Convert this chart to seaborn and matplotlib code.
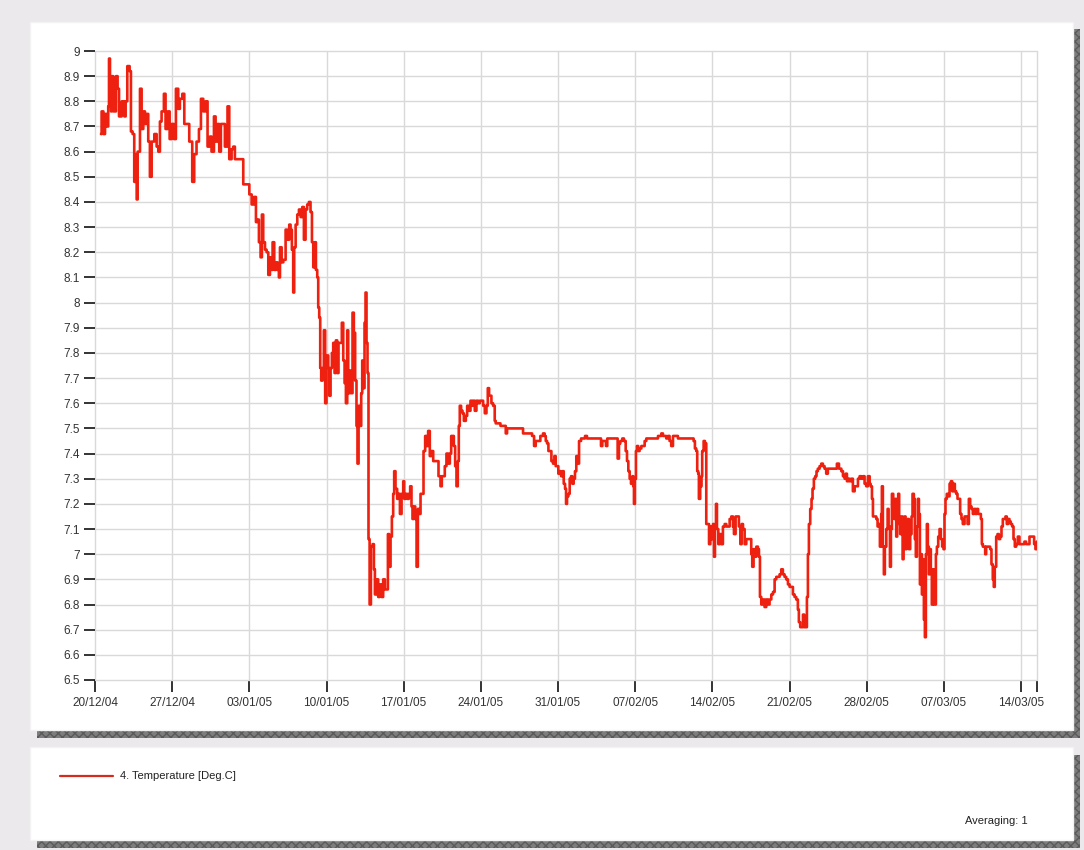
import numpy as np
import pandas as pd
import matplotlib
matplotlib.use("Agg")
import matplotlib.pyplot as plt
from matplotlib.patches import Rectangle
from matplotlib.lines import Line2D
import seaborn as sns

# ---------------- data ----------------
start_date = "2004-12-20"

day_offsets = [
    0.54, 0.60, 0.76, 0.91, 1.06, 1.20, 1.27, 1.36, 1.45, 1.51, 1.66, 1.90, 2.05, 2.18, 2.42, 2.66, 2.78, 2.93,
    3.14, 3.26, 3.41, 3.56, 3.69, 3.78, 3.87, 4.08, 4.23, 4.38, 4.53, 4.68, 4.83, 4.98, 5.14, 5.38, 5.59, 5.74,
    5.89, 6.04, 6.25, 6.40, 6.59, 6.77, 6.95, 7.16, 7.34, 7.55, 7.70, 7.92, 8.10, 8.31, 8.55, 8.82, 9.00, 9.21,
    9.43, 9.61, 9.82, 10.03, 10.21, 10.42, 10.57, 10.79, 10.94, 11.12, 11.27, 11.42, 11.57, 11.78, 12.02, 12.18,
    12.39, 12.54, 12.69, 12.93,
    13.45, 13.75, 14.00, 14.21, 14.42, 14.60, 14.72, 14.87, 15.02, 15.14, 15.26, 15.42, 15.57, 15.72, 15.87,
    16.02, 16.11, 16.26, 16.41, 16.56, 16.68, 16.78, 16.93, 17.08, 17.29, 17.44, 17.62, 17.74, 17.86, 17.98,
    18.07, 18.20, 18.35, 18.50, 18.65, 18.80, 18.95, 19.10, 19.25, 19.40, 19.55, 19.68, 19.80, 19.95, 20.04,
    20.16, 20.25, 20.34, 20.43, 20.52, 20.64, 20.76, 20.88, 21.00, 21.16, 21.25, 21.37, 21.49, 21.61, 21.73,
    21.85, 21.97, 22.09, 22.27, 22.39, 22.52, 22.64, 22.76, 22.88, 22.97, 23.12, 23.24, 23.36, 23.48, 23.60,
    23.72, 23.81, 23.91, 24.03, 24.15, 24.24, 24.36, 24.45, 24.54, 24.63, 24.72, 24.81,
    24.91, 25.03, 25.18, 25.30, 25.39, 25.54, 25.69, 25.84, 25.99, 26.14, 26.30, 26.45, 26.57, 26.69, 26.81,
    26.93, 27.05, 27.14, 27.26, 27.41, 27.53, 27.66, 27.81, 27.96, 28.05, 28.20, 28.32, 28.47, 28.59, 28.71,
    28.80, 28.92, 29.05, 29.17, 29.29, 29.41, 29.53, 29.68, 29.80, 29.95, 30.07, 30.22, 30.37, 30.50, 30.68,
    30.86, 31.04, 31.16, 31.34, 31.46, 31.58, 31.73, 31.88, 32.04, 32.19, 32.31, 32.43, 32.55, 32.67, 32.79,
    32.91, 33.00, 33.09, 33.21, 33.34, 33.46, 33.64, 33.76, 33.91, 34.06, 34.18, 34.30, 34.45, 34.60, 34.76,
    34.91, 35.09, 35.21, 35.36, 35.51, 35.63, 35.75,
    35.96, 36.11, 36.26, 36.35, 36.63, 36.78, 37.08, 37.26, 37.38, 38.74, 38.83, 39.44, 39.65, 39.83, 39.98,
    40.19, 40.40, 40.64, 40.79, 40.89, 41.01, 41.13, 41.25, 41.40, 41.55, 41.67, 41.79, 41.91, 42.03, 42.15,
    42.28, 42.40, 42.52, 42.64, 42.73, 42.82, 42.94, 43.06, 43.18, 43.30, 43.42, 43.54, 43.66, 43.79, 43.91,
    44.09, 44.33, 44.45, 44.63, 45.78, 45.90, 46.02, 46.23, 46.35, 46.47, 47.29, 47.41, 47.53, 47.65, 47.83,
    47.98, 48.14, 48.26, 48.38, 48.50, 48.62, 48.74, 48.83, 48.89, 48.98, 49.07, 49.16, 49.28, 49.40, 49.56,
    49.71, 49.86, 50.01, 50.92, 51.07, 51.22, 51.37, 51.52, 51.67, 51.82, 51.97, 52.12, 52.27, 52.43, 52.58,
    52.73, 52.88, 54.09, 54.30, 54.42, 54.54, 54.63, 54.72, 54.78, 54.90, 55.02, 55.08, 55.21, 55.33,
    55.45, 55.61, 55.70, 55.82, 55.94, 56.06, 56.15, 56.24, 56.33, 56.42, 56.54, 56.66, 56.81, 56.96, 57.12,
    57.27, 57.42, 57.57, 57.72, 57.87, 57.96, 58.11, 58.26, 58.41, 58.54, 58.66, 58.78, 58.93, 59.08, 59.38,
    59.53, 59.62, 59.74, 59.87, 59.99, 60.14, 60.23, 60.32, 60.44, 60.59, 60.74, 60.89, 61.04, 61.19, 61.35,
    61.50, 61.65, 61.80, 61.95, 62.10, 62.25, 62.40, 62.55, 62.70, 62.86, 63.01, 63.16, 63.31, 63.46, 63.61,
    63.76, 63.85, 63.97, 64.09, 64.22, 64.34, 64.46, 64.58, 64.67, 64.76, 64.88, 65.00, 65.09, 65.21, 65.33,
    65.45, 65.57, 65.73, 65.88, 66.03, 66.18, 66.33, 66.48,
    66.64, 67.24, 67.30, 67.49, 67.70, 67.85, 68.00, 68.09, 68.21, 68.33, 68.45, 68.60, 68.75, 68.91, 69.06,
    69.21, 69.36, 69.51, 69.66, 69.81, 69.96, 70.11, 70.27, 70.36, 70.48, 70.57, 70.72, 70.87, 70.99, 71.11,
    71.20, 71.32, 71.38, 71.47, 71.56, 71.65, 71.78, 71.90, 71.99, 72.11, 72.20, 72.29, 72.41, 72.50, 72.59,
    72.68, 72.77, 72.86, 72.95, 73.04, 73.14, 73.26, 73.35, 73.44, 73.53, 73.62, 73.71, 73.83, 73.95, 74.07,
    74.16, 74.28, 74.37, 74.46, 74.56, 74.65, 74.74, 74.83, 74.92, 75.01, 75.10, 75.19, 75.28, 75.37, 75.46,
    75.55, 75.64, 75.73, 75.82, 75.91, 76.00, 76.10, 76.19, 76.28, 76.37, 76.49, 76.61, 76.73, 76.85, 76.97,
    77.06, 77.15, 77.27, 77.40, 77.52, 77.64, 77.76, 77.88, 78.00, 78.12, 78.24, 78.36, 78.48, 78.60, 78.72,
    78.88, 79.03, 79.15, 79.27, 79.39, 79.51, 79.63, 79.75, 79.87, 79.99, 80.11, 80.23, 80.36, 80.45, 80.54,
    80.66, 80.75, 80.84, 81.08, 81.20, 81.32, 81.44, 81.53, 81.62, 81.75, 81.87, 81.99, 82.11, 82.23, 82.35,
    82.47, 82.59, 82.71, 82.83, 82.95, 83.07, 83.20, 83.32, 83.44, 83.56, 83.71, 83.86, 84.16, 84.31, 84.46,
    84.61, 84.77, 84.92, 85.07, 85.19, 85.31, 85.43,
]

temperatures = [
    8.67, 8.76, 8.67, 8.75, 8.70, 8.78, 8.97, 8.88, 8.76, 8.90, 8.76, 8.90, 8.85, 8.74, 8.80, 8.74, 8.80, 8.94,
    8.92, 8.68, 8.67, 8.48, 8.59, 8.41, 8.60, 8.85, 8.69, 8.76, 8.71, 8.75, 8.64, 8.50, 8.64, 8.67, 8.62, 8.60,
    8.72, 8.76, 8.83, 8.69, 8.76, 8.65, 8.71, 8.65, 8.85, 8.77, 8.81, 8.83, 8.71, 8.71, 8.64, 8.48, 8.59, 8.64,
    8.69, 8.81, 8.76, 8.80, 8.62, 8.66, 8.60, 8.74, 8.64, 8.71, 8.60, 8.71, 8.71, 8.62, 8.78, 8.57,
    8.61, 8.62, 8.57, 8.57,
    8.47, 8.47, 8.43, 8.39, 8.42, 8.32, 8.33, 8.24, 8.18, 8.35, 8.24, 8.21, 8.20, 8.11, 8.18,
    8.13, 8.24, 8.13, 8.16, 8.13, 8.10, 8.22, 8.16, 8.17, 8.29, 8.25, 8.31, 8.29, 8.21, 8.04,
    8.22, 8.31, 8.35, 8.37, 8.34, 8.38, 8.25, 8.37, 8.39, 8.40, 8.36, 8.24, 8.14, 8.24, 8.13,
    8.10, 7.98, 7.94, 7.74, 7.69, 7.74, 7.89, 7.60, 7.79, 7.74, 7.63, 7.74, 7.80, 7.84, 7.72,
    7.85, 7.72, 7.84, 7.84, 7.92, 7.77, 7.68, 7.60, 7.89, 7.64, 7.73, 7.64, 7.96, 7.88, 7.69,
    7.51, 7.36, 7.59, 7.51, 7.64, 7.77, 7.66, 7.92, 8.04, 7.84, 7.72, 7.06,
    6.80, 7.03, 7.04, 6.94, 6.84, 6.90, 6.83, 6.88, 6.83, 6.90, 6.86, 6.86, 7.08, 6.95, 7.07,
    7.15, 7.24, 7.33, 7.26, 7.22, 7.24, 7.16, 7.24, 7.29, 7.22, 7.24, 7.22, 7.24, 7.27, 7.19,
    7.14, 7.19, 7.14, 6.95, 7.18, 7.16, 7.24, 7.24, 7.41, 7.47, 7.43, 7.49, 7.39, 7.41, 7.37,
    7.37, 7.37, 7.31, 7.27, 7.31, 7.31, 7.35, 7.40, 7.36, 7.40, 7.47, 7.47, 7.43, 7.35, 7.27,
    7.37, 7.51, 7.59, 7.57, 7.56, 7.53, 7.55, 7.59, 7.57, 7.61, 7.59, 7.61, 7.57, 7.61, 7.60,
    7.61, 7.61, 7.59, 7.56, 7.59, 7.66, 7.63,
    7.60, 7.59, 7.53, 7.52, 7.52, 7.51, 7.51, 7.48, 7.50, 7.50, 7.48, 7.48, 7.47, 7.43, 7.45,
    7.45, 7.47, 7.48, 7.47, 7.45, 7.44, 7.41, 7.41, 7.37, 7.36, 7.39, 7.35, 7.35, 7.32, 7.33,
    7.31, 7.33, 7.28, 7.26, 7.20, 7.23, 7.24, 7.30, 7.31, 7.28, 7.30, 7.33, 7.39, 7.36, 7.45,
    7.46, 7.46, 7.47, 7.46, 7.46, 7.43, 7.45, 7.45, 7.43, 7.46, 7.46, 7.38, 7.44, 7.45, 7.46,
    7.45, 7.41, 7.37, 7.33, 7.30, 7.28, 7.31, 7.27, 7.20, 7.30, 7.41, 7.43, 7.41, 7.42, 7.43,
    7.43, 7.45, 7.46, 7.46, 7.47, 7.47, 7.48, 7.47, 7.47, 7.46, 7.47, 7.45, 7.43, 7.47, 7.47,
    7.47, 7.46, 7.46, 7.45, 7.42, 7.41, 7.33, 7.32, 7.22, 7.27, 7.31, 7.41, 7.45, 7.44,
    7.12, 7.12, 7.04, 7.11, 7.06, 7.12, 6.99, 7.11, 7.20, 7.10, 7.04, 7.08, 7.04, 7.11, 7.12,
    7.11, 7.11, 7.14, 7.15, 7.11, 7.08, 7.15, 7.15, 7.11, 7.04, 7.12, 7.10, 7.04, 7.06, 7.06,
    7.00, 6.95, 7.02, 6.99, 7.03, 7.02, 6.99, 6.83, 6.80, 6.82, 6.79, 6.82, 6.80, 6.82, 6.84,
    6.85, 6.90, 6.91, 6.91, 6.92, 6.94, 6.92, 6.91, 6.90, 6.88, 6.87, 6.87, 6.84, 6.83, 6.82,
    6.78, 6.73, 6.71, 6.71, 6.76, 6.71, 6.71, 6.83, 7.00, 7.12, 7.18, 7.22, 7.26, 7.30, 7.31,
    7.33, 7.34, 7.35, 7.36, 7.35, 7.34, 7.32, 7.34,
    7.34, 7.34, 7.36, 7.34, 7.33, 7.31, 7.30, 7.32, 7.29, 7.30, 7.29, 7.30, 7.25, 7.27, 7.27,
    7.30, 7.31, 7.30, 7.31, 7.28, 7.27, 7.31, 7.28, 7.27, 7.22, 7.15, 7.15, 7.14, 7.11, 7.12,
    7.03, 7.16, 7.27, 7.03, 6.92, 7.03, 7.10, 7.18, 7.11, 6.95, 7.10, 7.24, 7.19, 7.14, 7.22,
    7.07, 7.16, 7.24, 7.12, 7.08, 7.15, 6.98, 7.14, 7.15, 7.02, 7.11, 7.14, 7.02, 7.08, 7.15,
    7.24, 7.22, 7.06, 6.99, 7.11, 7.22, 7.16, 6.88, 7.00, 6.84, 6.98, 6.74, 6.67, 7.00, 7.12,
    7.03, 6.92, 7.02, 6.94, 6.80, 6.94, 6.80, 6.80, 7.00, 7.03, 7.07, 7.10, 7.06, 7.03, 7.02,
    7.16, 7.22, 7.24, 7.23, 7.28, 7.29, 7.25, 7.28, 7.25, 7.24, 7.22, 7.22, 7.16, 7.14, 7.12,
    7.15, 7.15, 7.12, 7.22, 7.19, 7.18, 7.16, 7.18, 7.16, 7.18, 7.16, 7.16, 7.14, 7.04, 7.03,
    7.03, 7.00, 7.03, 7.03, 7.02, 6.96, 6.90, 6.87, 6.95, 7.07, 7.08, 7.06, 7.07, 7.11, 7.14,
    7.14, 7.15, 7.12, 7.14, 7.13, 7.12, 7.11, 7.06, 7.03, 7.04, 7.07, 7.04, 7.04, 7.05, 7.04,
    7.04, 7.07, 7.07, 7.07, 7.04, 7.02, 7.05,
]

series_label = "4. Temperature [Deg.C]"
averaging_text = "Averaging: 1"

y_ticks = [6.5, 6.6, 6.7, 6.8, 6.9, 7.0, 7.1, 7.2, 7.3, 7.4, 7.5, 7.6, 7.7, 7.8, 7.9,
           8.0, 8.1, 8.2, 8.3, 8.4, 8.5, 8.6, 8.7, 8.8, 8.9, 9.0]
x_tick_dates = ["2004-12-20", "2004-12-27", "2005-01-03", "2005-01-10", "2005-01-17",
                "2005-01-24", "2005-01-31", "2005-02-07", "2005-02-14", "2005-02-21",
                "2005-02-28", "2005-03-07", "2005-03-14"]
x_tick_labels = ["20/12/04", "27/12/04", "03/01/05", "10/01/05", "17/01/05", "24/01/05",
                 "31/01/05", "07/02/05", "14/02/05", "21/02/05", "28/02/05", "07/03/05",
                 "14/03/05"]
x_end = "2005-03-15 10:50"

# ---------------- figure ----------------
sns.set_style("white")
plt.rcParams["font.family"] = ["Liberation Sans", "DejaVu Sans"]

W, H = 1084, 850
fig = plt.figure(figsize=(W / 100, H / 100), dpi=100)
fig.patch.set_facecolor("#ebe9ec")


def frect(x0, y0, x1, y1, **kw):
    """rectangle in pixel coordinates (top-left origin)"""
    r = Rectangle((x0 / W, 1 - y1 / H), (x1 - x0) / W, (y1 - y0) / H,
                  transform=fig.transFigure, figure=fig, **kw)
    fig.patches.append(r)


# panels with dark shadows
shadow = dict(facecolor="#7d7d7d", edgecolor="#5a5a5a", hatch="xxxx", linewidth=0, zorder=-2)
frect(37, 29, 1080, 738, **shadow)
frect(37, 755, 1080, 848, **shadow)
frect(30, 22, 1073, 730, facecolor="white", edgecolor="#f3f3f3", linewidth=1, zorder=-1)
frect(30, 747, 1073, 840, facecolor="white", edgecolor="#f3f3f3", linewidth=1, zorder=-1)

ax = fig.add_axes([95 / W, 1 - 680 / H, 942 / W, 629 / H])
ax.set_zorder(5)
ax.set_facecolor("white")
ax.patch.set_alpha(0)

start = pd.Timestamp(start_date)
dates = start + pd.to_timedelta(day_offsets, unit="D")
df = pd.DataFrame({"time": dates, "temp": temperatures})

sns.lineplot(data=df, x="time", y="temp", ax=ax, color="#ee2010", linewidth=1.9,
             drawstyle="steps-post", estimator=None, sort=False, legend=False)

ax.set_ylim(6.5, 9.0)
ax.set_xlim(start, pd.Timestamp(x_end))
ax.set_yticks(y_ticks)
ax.set_yticklabels([f"{v:g}" for v in y_ticks])
tick_pos = [pd.Timestamp(d) for d in x_tick_dates] + [pd.Timestamp(x_end)]
ax.set_xticks(tick_pos)
ax.set_xticklabels(x_tick_labels + [""])
ax.set_xlabel("")
ax.set_ylabel("")

for s in ax.spines.values():
    s.set_visible(False)
ax.grid(True, color="#d9d9d9", linewidth=1)
ax.set_axisbelow(True)
ax.tick_params(axis="y", left=True, direction="out", length=8, width=1.2, color="#111111",
               labelsize=8.5, labelcolor="#333333", pad=3)
ax.tick_params(axis="x", bottom=True, direction="out", length=8.6, width=1.2, color="#111111",
               labelsize=8.5, labelcolor="#333333", pad=4)
for gl in ax.get_xgridlines() + ax.get_ygridlines():
    gl.set_clip_on(False)

# legend panel
fig.lines.append(Line2D([60 / W, 113 / W], [1 - 776 / H, 1 - 776 / H], color="#d62a1e",
                        linewidth=1.6, transform=fig.transFigure, figure=fig))
fig.text(120 / W, 1 - 776 / H, series_label, fontsize=8, color="#222222", va="center", ha="left")
fig.text(1028 / W, 1 - 821 / H, averaging_text, fontsize=8, color="#222222", va="center", ha="right")

fig.savefig("out.png", dpi=100, facecolor=fig.get_facecolor())
